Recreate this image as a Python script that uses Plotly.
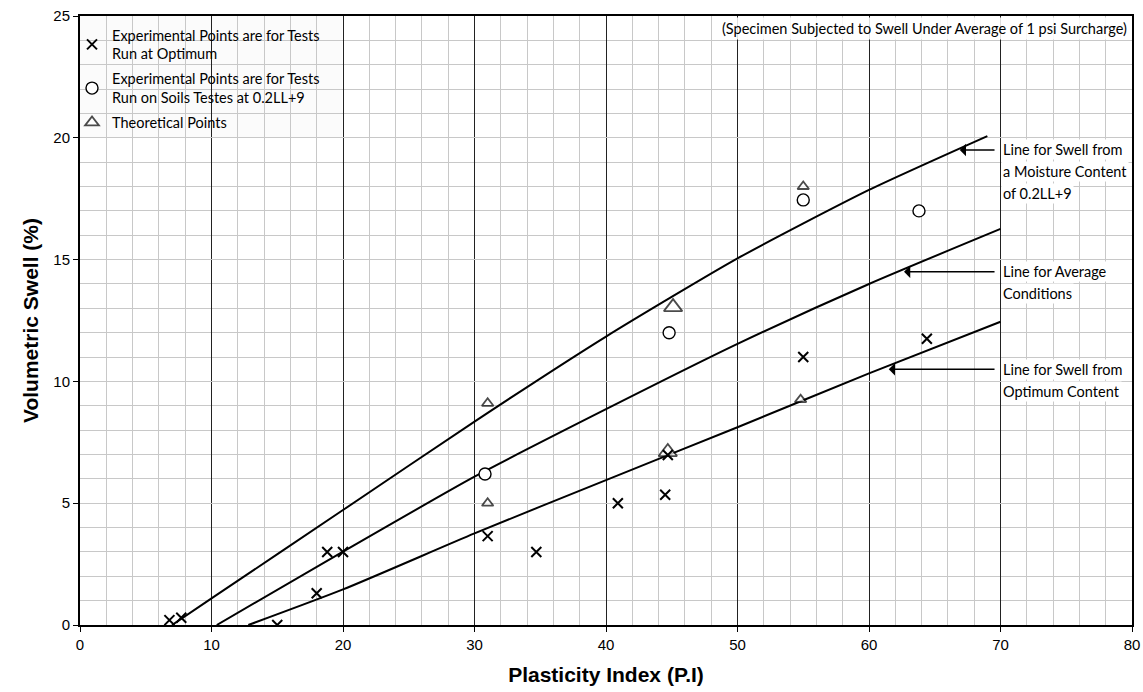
import plotly.graph_objects as go

# ---- Data ----
# Experimental points at optimum (crosses)
opt_pts_x = [6.8, 7.7, 15.0, 18.0, 18.8, 20.0, 31.0, 34.7, 40.9, 44.5, 44.7, 55.0, 64.4]
opt_pts_y = [0.2, 0.3, 0.0, 1.3, 3.0, 3.0, 3.65, 3.0, 5.0, 5.35, 6.98, 11.0, 11.75]

# Experimental points at 0.2LL+9 (circles)
mc_pts_x = [30.8, 44.8, 55.0, 63.8]
mc_pts_y = [6.2, 12.0, 17.45, 17.0]

# Theoretical points (triangles)
theo_x = [31.0, 31.0, 45.1, 44.7, 55.0, 54.8]
theo_y = [9.1, 5.0, 13.05, 7.1, 18.0, 9.25]
theo_size = [10, 10, 16, 16, 10, 10]

# Curves
line_mc_x = [7.0, 10, 20, 30, 40, 50, 60, 69]
line_mc_y = [0.0, 1.09, 4.72, 8.35, 11.84, 15.05, 17.86, 20.07]

line_avg_x = [10.4, 20, 30, 40, 50, 60, 70]
line_avg_y = [0.0, 3.01, 6.09, 8.86, 11.54, 14.0, 16.26]

line_opt_x = [12.8, 20, 30, 40, 50, 60, 70]
line_opt_y = [0.0, 1.46, 3.76, 5.95, 8.12, 10.33, 12.45]

legend_names = [
    "Experimental Points are for Tests<br>Run at Optimum",
    "Experimental Points are for Tests<br>Run on Soils Testes at 0.2LL+9",
    "Theoretical Points",
]

callouts = [
    # (arrow head x, head y, tail x, label lines)
    (66.9, 19.5, 69.66, ["Line for Swell from", "a Moisture Content", "of 0.2LL+9"]),
    (62.66, 14.5, 69.66, ["Line for Average", "Conditions"]),
    (61.5, 10.5, 69.66, ["Line for Swell from", "Optimum Content"]),
]
note = "(Specimen Subjected to Swell Under Average of 1 psi Surcharge)"

TXT_FONT = "Lato, 'Open Sans', sans-serif"
TXT_SIZE = 14.5

fig = go.Figure()

for lx, ly in [(line_mc_x, line_mc_y), (line_avg_x, line_avg_y), (line_opt_x, line_opt_y)]:
    fig.add_trace(go.Scatter(x=lx, y=ly, mode="lines", showlegend=False,
                             line=dict(color="black", width=2, shape="spline", smoothing=0.6),
                             hoverinfo="skip"))

fig.add_trace(go.Scatter(x=mc_pts_x, y=mc_pts_y, mode="markers", name=legend_names[1],
                         legendgroup="b", legendrank=2,
                         marker=dict(symbol="circle", size=12, color="white",
                                     line=dict(color="black", width=1.4))))
fig.add_trace(go.Scatter(x=theo_x, y=theo_y, mode="markers", name=legend_names[2],
                         legendgroup="c", legendrank=3,
                         marker=dict(symbol="triangle-up", size=theo_size, color="white",
                                     line=dict(color="black", width=1.8))))
fig.add_trace(go.Scatter(x=opt_pts_x, y=opt_pts_y, mode="markers", name=legend_names[0],
                         legendgroup="a", legendrank=1,
                         marker=dict(symbol="x-thin", size=10, color="black",
                                     line=dict(color="black", width=2))))

annotations = []
for hx, hy, tx, lines in callouts:
    annotations.append(dict(x=hx, y=hy, ax=tx, ay=hy, xref="x", yref="y", axref="x", ayref="y",
                            text="", showarrow=True, arrowhead=1, arrowsize=1.3,
                            arrowwidth=1.6, arrowcolor="black"))
    for i, t in enumerate(lines):
        annotations.append(dict(x=70.05, y=hy - i * 0.9, xref="x", yref="y", text=t,
                                showarrow=False, xanchor="left", yanchor="middle",
                                font=dict(family=TXT_FONT, size=TXT_SIZE, color="black"),
                                bgcolor="white", borderpad=1))
annotations.append(dict(x=0.9985, y=0.998, xref="paper", yref="paper", text=note,
                        showarrow=False, xanchor="right", yanchor="top",
                        font=dict(family=TXT_FONT, size=TXT_SIZE, color="black"),
                        bgcolor="rgba(255,255,255,0.85)", borderpad=2))

fig.update_layout(
    width=1143, height=692,
    margin=dict(l=80, r=11, t=16, b=67, autoexpand=False),
    paper_bgcolor="white", plot_bgcolor="white",
    font=dict(family="Liberation Sans, Arial, sans-serif", size=15, color="black"),
    annotations=annotations,
    shapes=[dict(type="rect", xref="paper", yref="paper", x0=0, x1=0.249, y0=0.7997, y1=1,
                 layer="between", line=dict(width=0), fillcolor="rgba(250,250,250,0.85)")],
    legend=dict(x=-0.0076, y=0.995, xanchor="left", yanchor="top",
                bgcolor="rgba(0,0,0,0)", borderwidth=0,
                font=dict(family=TXT_FONT, size=TXT_SIZE, color="black"),
                tracegroupgap=3, itemwidth=30),
    showlegend=True,
)

fig.update_xaxes(range=[0, 80], dtick=10, tick0=0, automargin=False,
                 showgrid=True, gridcolor="#222222", gridwidth=1,
                 minor=dict(dtick=2, showgrid=True, gridcolor="#c8c8c8", gridwidth=1),
                 ticks="outside", ticklen=5, tickcolor="black",
                 showline=True, linecolor="black", linewidth=2, mirror=True,
                 zeroline=False,
                 title=dict(text="<b>Plasticity Index (P.I)</b>", font=dict(size=21), standoff=15))
fig.update_yaxes(range=[0, 25], dtick=5, tick0=0, automargin=False,
                 showgrid=True, gridcolor="#c8c8c8", gridwidth=1,
                 minor=dict(dtick=1, showgrid=True, gridcolor="#c8c8c8", gridwidth=1),
                 ticks="outside", ticklen=5, tickcolor="black",
                 showline=True, linecolor="black", linewidth=2, mirror=True,
                 zeroline=False,
                 title=dict(text="<b>Volumetric Swell (%)</b>", font=dict(size=21), standoff=9))

# Remove the browser's default 8px page margin so the figure sits at the window origin
fig.write_html("out.html", config={"displayModeBar": False},
               post_script="document.body.style.margin='0';")
